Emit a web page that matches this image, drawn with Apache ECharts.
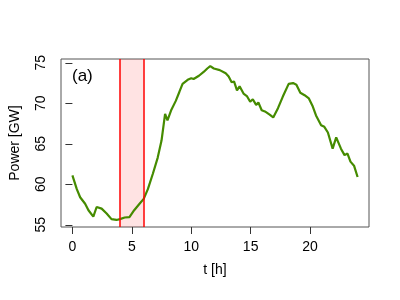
<!DOCTYPE html>
<html>
<head>
<meta charset="utf-8">
<script src="https://cdn.jsdelivr.net/npm/echarts@6/dist/echarts.min.js"></script>
<style>
  html, body { margin: 0; padding: 0; background: #fff; }
  #chart { width: 400px; height: 300px; }
</style>
</head>
<body>
<div id="chart"></div>
<script>
// hours of day
const hours = [0, 0.37, 0.65, 1.07, 1.35, 1.76, 2.04, 2.46, 2.88, 3.29, 3.71, 4.0, 4.4, 4.8, 5.2, 5.65, 6.0,
  6.35, 6.77, 7.18, 7.5, 7.8, 8.0, 8.3, 8.7, 9.0, 9.27, 9.7, 10.0, 10.2, 10.65, 11.07, 11.35, 11.6, 11.9,
  12.4, 12.9, 13.15, 13.4, 13.6, 13.85, 14.07, 14.4, 14.68, 14.96, 15.18, 15.46, 15.65, 15.93, 16.2, 16.6,
  16.9, 17.3, 17.7, 18.2, 18.57, 18.85, 19.18, 19.54, 19.9, 20.2, 20.5, 20.93, 21.2, 21.5, 21.9, 22.2,
  22.6, 22.9, 23.15, 23.4, 23.7, 24.0]
// power load [GW]
const power = [61.1, 59.4, 58.4, 57.6, 56.8, 56.0, 57.2, 57.0, 56.4, 55.7, 55.6, 55.7, 55.9, 55.95, 56.8, 57.6, 58.2,
  59.4, 61.3, 63.3, 65.4, 68.7, 67.9, 69.1, 70.3, 71.4, 72.4, 72.9, 73.1, 73.0, 73.4, 73.9, 74.3, 74.6, 74.3,
  74.1, 73.7, 73.3, 72.6, 72.7, 71.6, 72.1, 71.2, 70.9, 70.2, 70.5, 69.8, 70.1, 69.15, 69.0, 68.6,
  68.25, 69.4, 70.8, 72.4, 72.5, 72.3, 71.3, 71.0, 70.6, 69.7, 68.5, 67.3, 67.1, 66.4, 64.4, 65.8,
  64.4, 63.6, 63.8, 62.8, 62.3, 60.9]
const xTicks = [0, 5, 10, 15, 20]
const yTicks = [55, 60, 65, 70, 75]
const window_ = [4, 6]

const chart = echarts.init(document.getElementById('chart'))
const font = 'Liberation Sans, Arial, sans-serif'

chart.setOption({
  animation: false,
  grid: { left: 59, right: 31, top: 59, bottom: 73, show: true, borderColor: '#555', borderWidth: 1 },
  graphic: [{
    type: 'text', left: 72, top: 68,
    style: { text: '(a)', font: '17px ' + font, fill: '#000' }
  }],
  xAxis: {
    type: 'value', min: -0.96, max: 24.96,
    name: 't [h]', nameLocation: 'middle', nameGap: 36,
    nameTextStyle: { color: '#000', fontSize: 14, fontFamily: font },
    axisLine: { show: false },
    splitLine: { show: false },
    axisTick: { show: true, length: 7, customValues: xTicks, lineStyle: { color: '#333' } },
    axisLabel: { customValues: xTicks, margin: 13, color: '#000', fontSize: 14, fontFamily: font }
  },
  yAxis: {
    type: 'value', min: 54.73, max: 75.47,
    name: 'Power [GW]', nameLocation: 'middle', nameGap: 39,
    nameTextStyle: { color: '#000', fontSize: 14, fontFamily: font },
    axisLine: { show: false },
    splitLine: { show: false },
    axisTick: { show: true, length: 7, customValues: yTicks, lineStyle: { color: '#333' } },
    axisLabel: { customValues: yTicks, rotate: 90, margin: 13, color: '#000', fontSize: 14, fontFamily: font }
  },
  series: [{
    type: 'line',
    data: hours.map((h, i) => [h, power[i]]),
    showSymbol: false,
    lineStyle: { color: '#458B00', width: 2.2 },
    markArea: {
      silent: true,
      itemStyle: { color: 'rgba(255,0,0,0.11)' },
      data: [[{ xAxis: window_[0] }, { xAxis: window_[1] }]]
    },
    markLine: {
      silent: true, symbol: 'none', label: { show: false },
      lineStyle: { color: '#ff0000', type: 'solid', width: 1.5 },
      data: window_.map(v => ({ xAxis: v }))
    }
  }]
})
</script>
</body>
</html>
